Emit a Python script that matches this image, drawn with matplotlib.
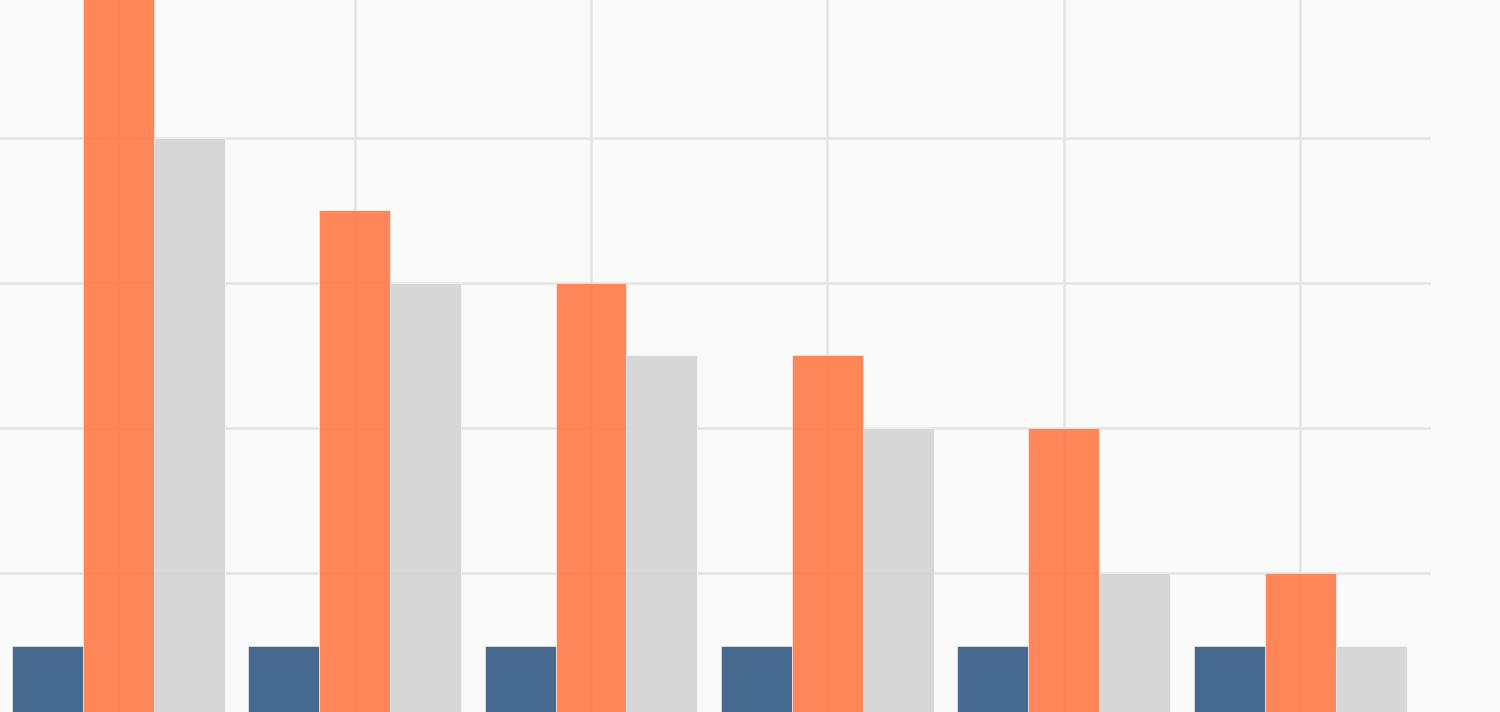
import matplotlib
matplotlib.use("Agg")
import matplotlib.pyplot as plt
import numpy as np

# данные: шесть групп, три ряда
groups = [0, 1, 2, 3, 4, 5]
blue_vals = [1, 1, 1, 1, 1, 1]
orange_vals = [10, 7, 6, 5, 4, 2]
gray_vals = [8, 6, 5, 4, 2, 1]

fig = plt.figure(figsize=(15, 7.12), dpi=100, facecolor="#fafafa")
ax = fig.add_axes([0, 0, 1431 / 1500, 1])
ax.set_facecolor("#fafafa")

x = np.array(groups)
w = 0.3
edge = (1, 1, 1, 0.5)
ax.bar(x - w, blue_vals, w, color="#325a83", alpha=0.9, edgecolor=edge, linewidth=0.4)
ax.bar(x, orange_vals, w, color="#ff7946", alpha=0.9, edgecolor=edge, linewidth=0.4)
ax.bar(x + w, gray_vals, w, color="#d4d4d4", alpha=0.9, edgecolor=edge, linewidth=0.4)

ax.set_xlim(-0.5, 5.553)
ax.set_ylim(0.083, 9.903)
ax.set_xticks(groups)
ax.set_yticks([2, 4, 6, 8])
ax.set_axisbelow(True)
ax.grid(True, color="#e4e4e4", linewidth=1.8)
ax.tick_params(length=0, labelbottom=False, labelleft=False)
for s in ax.spines.values():
    s.set_visible(False)

fig.savefig("out.png", dpi=100, facecolor="#fafafa")
